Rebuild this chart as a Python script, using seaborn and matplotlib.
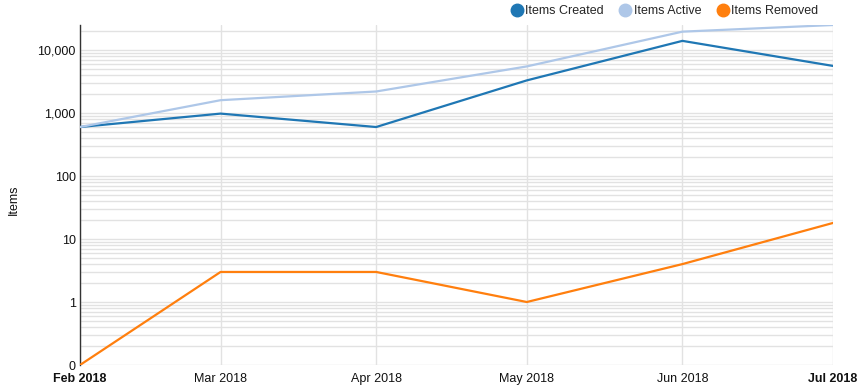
import numpy as np
import pandas as pd
import matplotlib
matplotlib.use("Agg")
import matplotlib.pyplot as plt
import matplotlib.dates as mdates
from matplotlib.ticker import LogLocator, FixedLocator, FuncFormatter, NullFormatter
from matplotlib.lines import Line2D
import seaborn as sns

months = ["2018-02-01", "2018-03-01", "2018-04-01", "2018-05-01", "2018-06-01", "2018-07-01"]
month_labels = ["Feb 2018", "Mar 2018", "Apr 2018", "May 2018", "Jun 2018", "Jul 2018"]
items_created = [600, 980, 600, 3300, 14000, 5600]
items_active = [600, 1600, 2200, 5500, 19600, 25000]
items_removed = [0, 3, 3, 1, 4, 18]
series_names = ["Items Created", "Items Active", "Items Removed"]
colors = ["#1f77b4", "#aec7e8", "#ff7f0e"]

dates = pd.to_datetime(months)
df = pd.concat([
    pd.DataFrame({"date": dates, "value": v, "series": n})
    for n, v in zip(series_names, [items_created, items_active, items_removed])
])
# log scale: zero shown at the bottom floor (0.1), labelled "0"
df["plot"] = df["value"].clip(lower=0.1)

sns.set_theme(style="white")
plt.rcParams["font.family"] = ["Liberation Sans", "DejaVu Sans"]

fig = plt.figure(figsize=(8.58, 3.87), dpi=100)
W, H = 858, 387
ax = fig.add_axes([80 / W, (H - 365) / H, (833 - 80) / W, (365 - 25) / H])

sns.lineplot(data=df, x="date", y="plot", hue="series", hue_order=series_names,
             palette=colors, linewidth=1.6, ax=ax, legend=False, zorder=3)

ax.set_yscale("log")
ax.set_ylim(0.1, 25000)
ax.set_xlim(dates[0], dates[-1])

major = [0.1, 1, 10, 100, 1000, 10000]
ax.yaxis.set_major_locator(FixedLocator(major))
ax.yaxis.set_major_formatter(FuncFormatter(lambda v, p: "0" if v < 0.5 else f"{int(round(v)):,}"))
ax.yaxis.set_minor_locator(LogLocator(base=10, subs=np.arange(2, 10), numticks=20))
ax.yaxis.set_minor_formatter(NullFormatter())

ax.set_xticks(dates)
ax.set_xticklabels(month_labels)
for i, lbl in enumerate(ax.get_xticklabels()):
    if i in (0, len(month_labels) - 1):
        lbl.set_fontweight("bold")

gc = "#e2e2e2"
ax.grid(True, which="major", axis="both", color=gc, linewidth=1.0, zorder=0)
ax.grid(True, which="minor", axis="y", color=gc, linewidth=1.0, zorder=0)
ax.set_axisbelow(True)

for s in ["top", "right", "bottom"]:
    ax.spines[s].set_visible(False)
ax.spines["left"].set_color("#333333")
ax.spines["left"].set_linewidth(1.0)

ax.tick_params(axis="both", which="both", length=0, labelsize=9, colors="#111111")
ax.tick_params(axis="y", pad=3)
ax.tick_params(axis="x", pad=6)

ax.set_xlabel("")
ax.set_ylabel("")
fig.text(14 / W, 1 - 200 / H, "Items", rotation=90, ha="center", va="center", fontsize=9, color="#111111")

handles = [Line2D([0], [0], marker="o", linestyle="none", markersize=9,
                  markerfacecolor=c, markeredgecolor=c) for c in colors]
fig.legend(handles, series_names, loc="upper right", bbox_to_anchor=(826 / W, 1.0 + 2 / H),
           ncol=3, frameon=False, fontsize=9, handletextpad=0.2, columnspacing=1.2,
           handlelength=1.0, borderaxespad=0.2)

fig.savefig("out.png", dpi=100)
